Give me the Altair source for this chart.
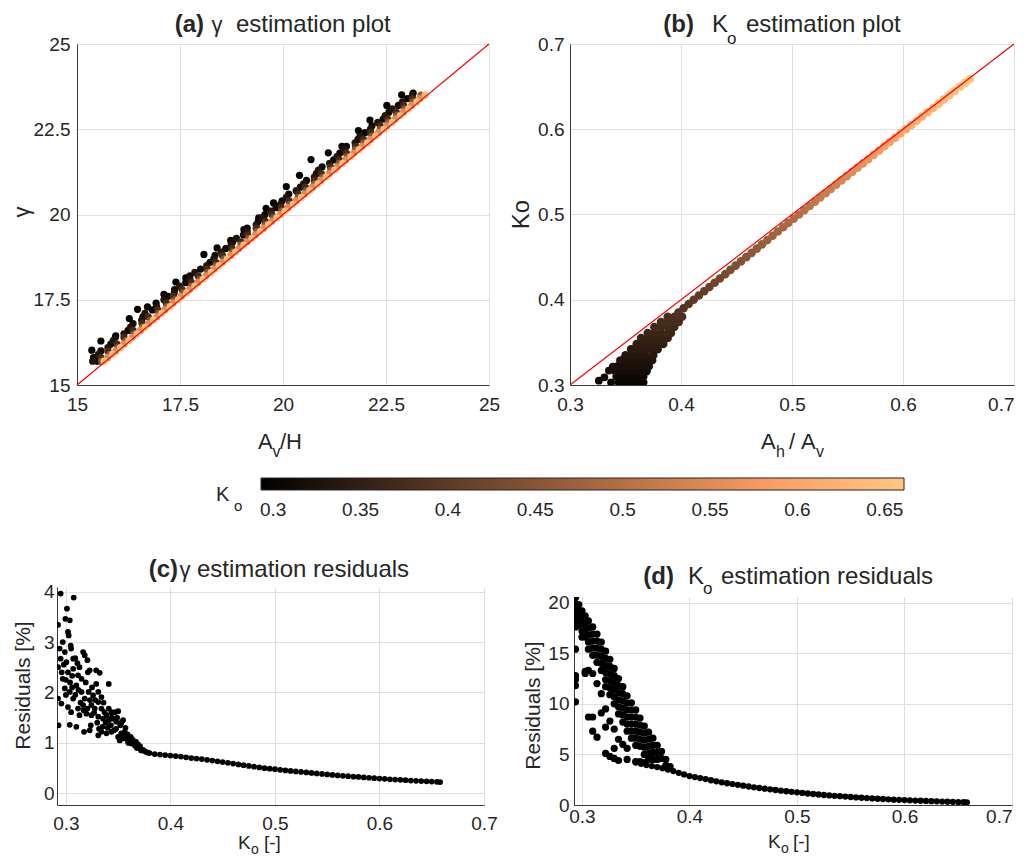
import altair as alt
import pandas as pd

FONT = "Liberation Sans"
INK = "#262626"
GRID = "#dfdfdf"
RED = "#ff0000"
FMT = ".3~f"

# ---------------- colour scale (copper) ----------------
KO_DOMAIN = [0.293, 0.5874, 0.661]
KO_COLORS = ["#000000", "#ff9f65", "#ffc77f"]
KO_TICKS = [0.3, 0.35, 0.4, 0.45, 0.5, 0.55, 0.6, 0.65]

A_TICKS = [15, 17.5, 20, 22.5, 25]
B_TICKS = [0.3, 0.4, 0.5, 0.6, 0.7]
K_TICKS = [0.3, 0.4, 0.5, 0.6, 0.7]
C_YTICKS = [0, 1, 2, 3, 4]
D_YTICKS = [0, 5, 10, 15, 20]
A_DIAG = [15, 25]
B_DIAG = [0.3, 0.7]

# ---------------- panel (a): gamma estimation ----------------
A_TOP_KO = 0.30
A_TOP_X = [15.36, 15.58, 15.94, 16.27, 16.47, 16.71, 17.11, 17.40, 17.64, 18.08, 18.40, 18.73, 19.05,
           19.41, 19.59, 19.77, 20.08, 20.40, 20.68, 21.10, 21.43, 21.83, 22.11, 22.52, 22.88, 23.16,
           15.40, 15.45, 15.50, 15.55]
A_TOP_Y = [16.02, 16.29, 16.44, 16.95, 17.22, 17.29, 17.66, 18.02, 18.14, 18.83, 19.02, 19.24, 19.56,
           19.90, 20.18, 20.34, 20.82, 21.15, 21.61, 21.81, 22.00, 22.46, 22.77, 23.20, 23.51, 23.56,
           15.80, 15.72, 15.70, 15.74]

A_ROWS_Y = [15.7, 15.9, 16.1, 16.3, 16.5, 16.7, 16.9, 17.1, 17.3, 17.5, 17.7, 17.9, 18.1, 18.3, 18.5,
            18.7, 18.9, 19.1, 19.3, 19.5, 19.7, 19.9, 20.1, 20.3, 20.5, 20.7, 20.9, 21.1, 21.3, 21.5,
            21.7, 21.9, 22.1, 22.3, 22.5, 22.7, 22.9, 23.1, 23.3, 23.5]
A_ROWS_Y2 = [15.8, 16.0, 16.2, 16.4, 16.6, 16.8, 17.0, 17.2, 17.4, 17.6, 17.8, 18.0, 18.2, 18.4, 18.6,
             18.8, 19.0, 19.2, 19.4, 19.6, 19.8, 20.0, 20.2, 20.4, 20.6, 20.8, 21.0, 21.2, 21.4, 21.6,
             21.8, 22.0, 22.2, 22.4, 22.6, 22.8, 23.0, 23.2, 23.4]

A_DARK2_KO = 0.31
A_DARK2_X = [15.45, 15.58, 15.82, 15.93, 16.24, 16.36, 16.60, 16.83, 16.92, 17.21, 17.37, 17.64, 17.74,
             18.00, 18.23, 18.35, 18.61, 18.78, 19.04, 19.13, 19.40, 19.56, 19.83, 19.98, 20.14, 20.42,
             20.57, 20.81, 20.95, 21.23, 21.38, 21.54, 21.82, 21.99, 22.16, 22.43, 22.57, 22.80, 23.02]
A_DARK_KO = 0.33
A_DARK_X = [15.38, 15.52, 15.75, 15.88, 16.14, 16.30, 16.57, 16.65, 16.93, 17.11, 17.36, 17.49, 17.74,
            17.86, 18.15, 18.32, 18.50, 18.74, 18.87, 19.13, 19.35, 19.49, 19.71, 19.94, 20.08, 20.32,
            20.50, 20.76, 20.86, 21.13, 21.31, 21.49, 21.75, 21.87, 22.12, 22.30, 22.48, 22.65, 22.90,
            23.14]
A_DBROWN_KO = 0.37
A_DBROWN_X = [15.58, 15.75, 15.97, 16.14, 16.36, 16.58, 16.73, 16.96, 17.17, 17.34, 17.55, 17.78, 17.94,
              18.16, 18.37, 18.53, 18.76, 18.98, 19.14, 19.35, 19.57, 19.73, 19.96, 20.15, 20.37, 20.54,
              20.76, 20.93, 21.15, 21.37, 21.54, 21.76, 21.95, 22.13, 22.36, 22.54, 22.75, 22.93, 23.14]
A_BROWN_KO = 0.45
A_BROWN_X = [15.60, 15.80, 15.99, 16.19, 16.39, 16.59, 16.79, 16.99, 17.18, 17.38, 17.58, 17.78, 17.98,
             18.18, 18.38, 18.58, 18.78, 18.98, 19.17, 19.37, 19.57, 19.77, 19.97, 20.17, 20.37, 20.57,
             20.77, 20.97, 21.16, 21.36, 21.56, 21.76, 21.96, 22.16, 22.36, 22.56, 22.76, 22.96, 23.16,
             23.35]
A_MID_KO = 0.55
A_MID_X = [15.74, 15.94, 16.14, 16.34, 16.54, 16.74, 16.94, 17.13, 17.33, 17.53, 17.73, 17.93, 18.13,
           18.33, 18.53, 18.73, 18.93, 19.13, 19.33, 19.53, 19.73, 19.93, 20.12, 20.32, 20.52, 20.72,
           20.92, 21.12, 21.32, 21.52, 21.72, 21.92, 22.12, 22.32, 22.52, 22.72, 22.92, 23.12, 23.32]
A_LIGHT_KO = 0.64
A_LIGHT_X = [15.66, 15.86, 16.06, 16.26, 16.46, 16.66, 16.86, 17.06, 17.26, 17.46, 17.66, 17.86, 18.06,
             18.26, 18.45, 18.65, 18.85, 19.05, 19.25, 19.45, 19.65, 19.85, 20.05, 20.25, 20.45, 20.65,
             20.85, 21.05, 21.25, 21.45, 21.65, 21.85, 22.05, 22.25, 22.45, 22.65, 22.85, 23.05, 23.25,
             23.45]

# ---------------- panel (b): Ko estimation ----------------
B_BAND_KO = [0.385, 0.390, 0.395, 0.400, 0.405, 0.410, 0.415, 0.420, 0.425, 0.430, 0.435, 0.440, 0.445,
             0.450, 0.455, 0.460, 0.465, 0.470, 0.475, 0.480, 0.485, 0.490, 0.495, 0.500, 0.505, 0.510,
             0.515, 0.520, 0.525, 0.530, 0.535, 0.540, 0.545, 0.550, 0.555, 0.560, 0.565, 0.570, 0.575,
             0.580, 0.585, 0.590, 0.595, 0.600, 0.605, 0.610, 0.615, 0.620, 0.625, 0.630, 0.635, 0.640,
             0.645, 0.650, 0.655, 0.659]
B_BAND_X = [0.3977, 0.4023, 0.4069, 0.4114, 0.4161, 0.4209, 0.4256, 0.4303, 0.4350, 0.4398, 0.4445,
            0.4492, 0.4540, 0.4588, 0.4636, 0.4683, 0.4730, 0.4778, 0.4825, 0.4872, 0.4920, 0.4967,
            0.5015, 0.5063, 0.5111, 0.5159, 0.5207, 0.5255, 0.5303, 0.5350, 0.5398, 0.5446, 0.5494,
            0.5543, 0.5591, 0.5639, 0.5687, 0.5736, 0.5784, 0.5832, 0.5880, 0.5928, 0.5977, 0.6027,
            0.6075, 0.6124, 0.6173, 0.6222, 0.6271, 0.6320, 0.6368, 0.6418, 0.6467, 0.6516, 0.6565,
            0.6604]
B_WEDGE = {
    0.303: [0.344, 0.350, 0.356, 0.362, 0.366],
    0.310: [0.342, 0.348, 0.354, 0.360, 0.366],
    0.316: [0.341, 0.347, 0.353, 0.359, 0.365, 0.369],
    0.322: [0.343, 0.349, 0.355, 0.361, 0.367, 0.371],
    0.329: [0.347, 0.353, 0.359, 0.365, 0.371, 0.374],
    0.335: [0.350, 0.356, 0.362, 0.368, 0.375],
    0.342: [0.355, 0.361, 0.367, 0.373, 0.379],
    0.348: [0.360, 0.366, 0.372, 0.378, 0.384],
    0.355: [0.364, 0.370, 0.376, 0.382, 0.388],
    0.361: [0.370, 0.376, 0.382, 0.388, 0.391],
    0.368: [0.376, 0.382, 0.388, 0.394],
    0.374: [0.382, 0.388, 0.394, 0.398],
    0.380: [0.388, 0.394, 0.401],
}
B_LOOSE = [(0.326, 0.305), (0.331, 0.309), (0.337, 0.303), (0.335, 0.317), (0.3385, 0.3215), (0.345, 0.329)]

# ---------------- panel (c): gamma residuals ----------------
C_SCATTER = [
    (0.295, 3.96), (0.3075, 3.88), (0.2925, 3.34), (0.301, 3.66), (0.2995, 3.46), (0.3037, 3.43),
    (0.302, 3.20), (0.3027, 3.13), (0.297, 3.00), (0.294, 2.87), (0.299, 2.80), (0.3046, 2.93),
    (0.305, 2.87), (0.2925, 2.50), (0.295, 2.67), (0.3005, 2.60), (0.307, 2.67), (0.309, 2.68),
    (0.3165, 2.80), (0.318, 2.74), (0.3206, 2.64), (0.2925, 1.88), (0.293, 1.35), (0.297, 2.27),
    (0.302, 2.40), (0.307, 2.47), (0.3116, 2.34), (0.315, 2.27), (0.321, 2.40), (0.3228, 2.44),
    (0.329, 2.44), (0.3324, 2.39), (0.329, 2.17), (0.341, 2.17), (0.299, 2.08), (0.3037, 2.01),
    (0.307, 1.88), (0.310, 2.14), (0.315, 2.01), (0.318, 1.88), (0.3218, 2.01), (0.326, 1.94),
    (0.331, 2.01), (0.334, 1.91), (0.2957, 1.78), (0.302, 1.71), (0.305, 1.61), (0.3116, 1.68),
    (0.3165, 1.75), (0.3206, 1.68), (0.3244, 1.75), (0.3276, 1.68), (0.331, 1.81), (0.334, 1.68),
    (0.337, 1.61), (0.341, 1.68), (0.3436, 1.61), (0.347, 1.61), (0.350, 1.63), (0.313, 1.55),
    (0.3196, 1.58), (0.3244, 1.55), (0.331, 1.52), (0.3356, 1.48), (0.341, 1.45), (0.345, 1.48),
    (0.348, 1.42), (0.3547, 1.45), (0.3037, 1.36), (0.310, 1.32), (0.3174, 1.22), (0.3228, 1.25),
    (0.3238, 1.35), (0.331, 1.15), (0.3317, 1.28), (0.334, 1.22), (0.3388, 1.19), (0.3436, 1.22),
    (0.348, 1.28), (0.350, 1.12), (0.3515, 1.05), (0.353, 1.19), (0.3547, 1.09), (0.3563, 1.22),
    (0.358, 1.09), (0.3595, 1.02), (0.361, 1.09), (0.3627, 0.99), (0.3643, 1.05), (0.366, 0.95),
    (0.3675, 0.92), (0.369, 0.97), (0.3707, 0.89), (0.374, 0.86), (0.377, 0.82), (0.356, 1.15),
    (0.360, 1.00), (0.362, 1.12), (0.365, 0.98), (0.368, 0.90), (0.372, 0.85), (0.375, 0.84),
    (0.378, 0.81), (0.296, 2.40), (0.298, 2.55), (0.304, 2.20), (0.312, 2.05), (0.313, 2.50),
    (0.319, 2.20), (0.325, 2.10), (0.328, 1.85), (0.336, 1.80), (0.339, 1.55), (0.343, 1.35),
    (0.346, 1.25), (0.352, 1.35), (0.357, 1.30), (0.338, 1.40), (0.300, 2.25), (0.306, 2.10),
    (0.309, 1.95), (0.314, 1.80), (0.317, 1.65), (0.323, 1.85), (0.327, 1.60), (0.330, 1.40),
    (0.335, 1.32), (0.340, 1.30), (0.344, 1.50), (0.349, 1.50), (0.353, 1.40), (0.359, 1.17),
    (0.363, 1.08), (0.367, 1.02), (0.371, 0.93), (0.306, 2.33), (0.311, 2.58), (0.300, 1.95),
]
C_TAIL_KO = [0.380, 0.385, 0.390, 0.395, 0.400, 0.405, 0.410, 0.415, 0.420, 0.425, 0.430, 0.435, 0.440,
             0.445, 0.450, 0.455, 0.460, 0.465, 0.470, 0.475, 0.480, 0.485, 0.490, 0.495, 0.500, 0.505,
             0.510, 0.515, 0.520, 0.525, 0.530, 0.535, 0.540, 0.545, 0.550, 0.555, 0.560, 0.565, 0.570,
             0.575, 0.580, 0.585, 0.590, 0.595, 0.600, 0.605, 0.610, 0.615, 0.620, 0.625, 0.630, 0.635,
             0.640, 0.645, 0.650, 0.655, 0.658]
C_TAIL_RES = [0.80, 0.78, 0.77, 0.76, 0.75, 0.74, 0.73, 0.715, 0.70, 0.69, 0.68, 0.665, 0.65, 0.635, 0.62,
              0.605, 0.59, 0.575, 0.56, 0.545, 0.53, 0.515, 0.50, 0.49, 0.48, 0.467, 0.455, 0.445, 0.435,
              0.425, 0.415, 0.405, 0.395, 0.385, 0.375, 0.365, 0.355, 0.348, 0.34, 0.332, 0.325, 0.317,
              0.31, 0.302, 0.295, 0.288, 0.28, 0.275, 0.27, 0.262, 0.255, 0.25, 0.245, 0.24, 0.235, 0.23,
              0.225]

# ---------------- panel (d): Ko residuals ----------------
D_WEDGE = {
    0.294: [20.5, 19.9, 19.3, 18.7, 18.1, 17.6, 15.4, 12.8, 12.4, 11.8, 10.2],
    0.297: [19.8, 19.1, 18.4, 17.8],
    0.300: [19.2, 18.6, 17.9, 17.2, 16.6],
    0.303: [18.7, 18.0, 17.3, 16.6, 13.2, 13.0],
    0.306: [18.2, 17.5, 16.8, 16.1, 15.4, 13.3, 8.7],
    0.310: [17.6, 16.9, 16.2, 15.5, 14.8, 13.0, 8.7, 7.3],
    0.314: [16.9, 16.2, 15.5, 14.8, 14.1, 12.0, 6.7],
    0.318: [16.1, 15.4, 14.7, 14.0, 13.3, 11.0, 9.1],
    0.322: [15.2, 14.5, 13.8, 13.1, 12.4, 11.7, 9.5, 7.7, 5.1],
    0.326: [14.4, 13.7, 13.0, 12.3, 11.6, 10.9, 8.3, 4.8],
    0.330: [13.5, 12.8, 12.1, 11.4, 10.7, 10.0, 7.5, 5.6, 4.6],
    0.334: [12.5, 11.8, 11.1, 10.4, 9.7, 9.0, 6.5, 4.4],
    0.338: [11.7, 11.0, 10.3, 9.6, 8.9, 8.2, 6.0],
    0.342: [10.8, 10.1, 9.4, 8.7, 8.0, 7.3, 5.6, 4.5],
    0.346: [10.1, 9.4, 8.7, 8.0, 7.3, 6.6],
    0.350: [9.4, 8.7, 8.0, 7.3, 6.6, 5.9, 4.3],
    0.354: [8.6, 7.9, 7.2, 6.5, 5.8, 4.3],
    0.358: [7.8, 7.1, 6.4, 5.7, 5.0, 4.2],
    0.362: [7.2, 6.5, 5.8, 5.1, 4.5],
    0.366: [6.6, 5.9, 5.2, 4.5],
    0.370: [5.9, 5.2, 4.5],
    0.374: [5.3, 4.6],
    0.378: [4.5, 3.9],
    0.382: [3.8],
}
D_TAIL_KO = [0.350, 0.355, 0.360, 0.365, 0.370, 0.375, 0.380, 0.385, 0.390, 0.395, 0.400, 0.405, 0.410,
             0.415, 0.420, 0.425, 0.430, 0.435, 0.440, 0.445, 0.450, 0.455, 0.460, 0.465, 0.470, 0.475,
             0.480, 0.485, 0.490, 0.495, 0.500, 0.505, 0.510, 0.515, 0.520, 0.525, 0.530, 0.535, 0.540,
             0.545, 0.550, 0.555, 0.560, 0.565, 0.570, 0.575, 0.580, 0.585, 0.590, 0.595, 0.600, 0.605,
             0.610, 0.615, 0.620, 0.625, 0.630, 0.635, 0.640, 0.645, 0.650, 0.655, 0.658]
D_TAIL_RES = [4.20, 4.07, 3.95, 3.85, 3.75, 3.64, 3.50, 3.35, 3.18, 3.02, 2.86, 2.76, 2.66, 2.56, 2.45,
              2.34, 2.24, 2.15, 2.07, 1.99, 1.91, 1.83, 1.75, 1.68, 1.61, 1.55, 1.48, 1.42, 1.36, 1.30,
              1.25, 1.19, 1.14, 1.09, 1.04, 0.99, 0.95, 0.91, 0.87, 0.83, 0.79, 0.75, 0.72, 0.68, 0.65,
              0.62, 0.59, 0.56, 0.53, 0.51, 0.49, 0.46, 0.44, 0.42, 0.40, 0.38, 0.36, 0.34, 0.32, 0.30,
              0.28, 0.27, 0.26]

# ---------------- tables ----------------
a_rows = []
a_rows += [(x, y, A_TOP_KO) for x, y in zip(A_TOP_X, A_TOP_Y)]
a_rows += [(x, y, A_DARK2_KO) for x, y in zip(A_DARK2_X, A_ROWS_Y2)]
a_rows += [(x, y, A_DARK_KO) for x, y in zip(A_DARK_X, A_ROWS_Y)]
a_rows += [(x, y, A_DBROWN_KO) for x, y in zip(A_DBROWN_X, A_ROWS_Y2)]
a_rows += [(x, y, A_BROWN_KO) for x, y in zip(A_BROWN_X, A_ROWS_Y)]
a_rows += [(x, y, A_MID_KO) for x, y in zip(A_MID_X, A_ROWS_Y2)]
a_rows += [(x, y, A_LIGHT_KO) for x, y in zip(A_LIGHT_X, A_ROWS_Y)]
a_df = pd.DataFrame(a_rows, columns=["x", "y", "ko"])

b_rows = [(x, k, k, 72) for k, xs in B_WEDGE.items() for x in xs]
b_rows += [(x, k, k, 60) for x, k in B_LOOSE]
b_rows += [(x, k, k, 74) for x, k in zip(B_BAND_X, B_BAND_KO)]
b_df = pd.DataFrame(b_rows, columns=["x", "y", "ko", "sz"])

c_rows = list(C_SCATTER) + list(zip(C_TAIL_KO, C_TAIL_RES))
c_df = pd.DataFrame(c_rows, columns=["x", "y"])

d_rows = [(k, r, 52) for k, rs in D_WEDGE.items() for r in rs]
d_rows += [(k, r, 40) for k, r in zip(D_TAIL_KO, D_TAIL_RES)]
d_df = pd.DataFrame(d_rows, columns=["x", "y", "sz"])

KO_SCALE = alt.Scale(domain=KO_DOMAIN, range=KO_COLORS, interpolate="rgb", clamp=True)
KO_LEGEND = alt.Legend(
    orient="none", legendX=204, legendY=434, direction="horizontal",
    gradientLength=643, gradientThickness=12, title=None, values=KO_TICKS, format="~g",
    labelFont=FONT, labelFontSize=19, labelColor=INK, labelOffset=11, labelOverlap=False,
    gradientStrokeColor=INK, gradientStrokeWidth=1, padding=0,
)
RIGHT_END = {"condition": {"test": "datum.value >= 0.69", "value": "right"}, "value": "center"}


def txt(s, x, y, size, weight="normal", align="left"):
    return alt.Chart(pd.DataFrame({"t": [s]})).mark_text(
        align=align, baseline="alphabetic", font=FONT, fontSize=size,
        fontWeight=weight, color=INK,
    ).encode(x=alt.value(x), y=alt.value(y), text="t:N")


def anchor(x, y):
    return alt.Chart(pd.DataFrame({"s": [0]})).mark_circle(size=1, opacity=0).encode(
        x=alt.value(x), y=alt.value(y))


def spacer():
    return alt.Chart(pd.DataFrame({"s": [0]})).mark_circle(size=1, opacity=0).encode(
        x=alt.value(0), y=alt.value(0)).properties(width=1, height=1)


def xaxis(values, pad, right_end=False):
    if right_end:
        return alt.Axis(values=values, format=FMT, title=None, labelPadding=pad, labelAlign=RIGHT_END)
    return alt.Axis(values=values, format=FMT, title=None, labelPadding=pad)


def yaxis(values, pad, title, tx, ty, size):
    return alt.Axis(values=values, format=FMT, labelPadding=pad, title=title,
                    titleX=tx, titleY=ty, titleFontSize=size, titleAngle=270,
                    titleBaseline="middle", titleAlign="center")


# ---------------- (a) ----------------
XA = alt.X("x:Q", scale=alt.Scale(domain=[15, 25], nice=False, zero=False), axis=xaxis(A_TICKS, 10))
YA = alt.Y("y:Q", scale=alt.Scale(domain=[15, 25], nice=False, zero=False),
           axis=yaxis(A_TICKS, 7, "γ", -56, 167.5, 22))
pa_pts = alt.Chart(a_df).mark_circle(size=52, opacity=1, clip=True).encode(
    x=XA, y=YA, color=alt.Color("ko:Q", scale=KO_SCALE, legend=KO_LEGEND))
pa_line = alt.Chart(pd.DataFrame({"x": A_DIAG, "y": A_DIAG})).mark_line(
    color=RED, strokeWidth=1.2).encode(x=XA, y=YA)
pa = alt.layer(
    pa_pts, pa_line,
    txt("(a)", 127, -12, 24, "bold", "right"),
    txt("γ", 140, -12, 22, "normal", "center"),
    txt("estimation plot", 159, -12, 24),
    txt("A", 181, 405, 22), txt("v", 195.5, 413, 16), txt("/H", 203, 405, 22),
    txt("K", 139, 457, 20), txt("o", 157, 467, 15),
    anchor(-68, -34.7), anchor(-68, 497.3),
).properties(width=412, height=341)

# ---------------- (b) ----------------
XB = alt.X("x:Q", scale=alt.Scale(domain=[0.3, 0.7], nice=False, zero=False),
           axis=xaxis(B_TICKS, 10, right_end=True))
YB = alt.Y("y:Q", scale=alt.Scale(domain=[0.3, 0.7], nice=False, zero=False),
           axis=yaxis(B_TICKS, 6, "Ko", -49, 170, 24))
pb_pts = alt.Chart(b_df).mark_circle(opacity=1, clip=True).encode(
    x=XB, y=YB, color=alt.Color("ko:Q", scale=KO_SCALE, legend=KO_LEGEND),
    size=alt.Size("sz:Q", scale=None))
pb_line = alt.Chart(pd.DataFrame({"x": B_DIAG, "y": B_DIAG})).mark_line(
    color=RED, strokeWidth=1.2).encode(x=XB, y=YB)
pb = alt.layer(
    pb_pts, pb_line,
    txt("(b)", 124, -12, 24, "bold", "right"),
    txt("K", 142, -12, 24), txt("o", 157, 0, 17),
    txt("estimation plot", 176, -12, 24),
    txt("A", 191, 405, 22), txt("h", 206, 413, 16), txt("/", 219, 405, 22),
    txt("A", 231, 405, 22), txt("v", 246, 413, 16),
).properties(width=444, height=341)

# ---------------- (c) ----------------
XC = alt.X("x:Q", scale=alt.Scale(domain=[0.2915, 0.7], nice=False, zero=False), axis=xaxis(K_TICKS, 9))
YC = alt.Y("y:Q", scale=alt.Scale(domain=[-0.23, 4.09], nice=False, zero=False),
           axis=yaxis(C_YTICKS, 3, "Residuals [%]", -33.5, 98, 21))
pc = alt.layer(
    alt.Chart(c_df).mark_circle(size=33, opacity=1, color="#000000", clip=True).encode(x=XC, y=YC),
    txt("(c)", 121, -10, 24, "bold", "right"),
    txt("γ", 128, -10, 22, "normal", "center"),
    txt("estimation residuals", 140, -10, 24),
    txt("K", 181, 262, 19), txt("o", 194, 267, 14), txt("[-]", 207, 262, 19),
    anchor(-48, -40),
).properties(width=427, height=218)

# ---------------- (d) ----------------
XD = alt.X("x:Q", scale=alt.Scale(domain=[0.2926, 0.7], nice=False, zero=False),
           axis=xaxis(K_TICKS, 2, right_end=True))
YD = alt.Y("y:Q", scale=alt.Scale(domain=[0, 20.56], nice=False, zero=False),
           axis=yaxis(D_YTICKS, 5, "Residuals [%]", -41, 108, 21))
pdd = alt.layer(
    alt.Chart(d_df).mark_circle(opacity=1, color="#000000", clip=True).encode(
        x=XD, y=YD, size=alt.Size("sz:Q", scale=None)),
    txt("(d)", 100, -13, 24, "bold", "right"),
    txt("K", 114, -13, 24), txt("o", 129, -3, 17),
    txt("estimation residuals", 147, -13, 24),
    txt("K", 194, 251, 19), txt("o", 207, 256, 14), txt("[-]", 219, 251, 19),
).properties(width=438, height=208)

row1 = alt.hconcat(spacer(), alt.hconcat(pa, pb, spacing=81, bounds="flush"), spacing=19, bounds="flush")
row3 = alt.hconcat(pc, alt.vconcat(spacer(), pdd, spacing=9, bounds="flush"), spacing=90, bounds="flush")

chart = alt.vconcat(row1, row3, spacing=4).properties(
    padding={"left": 0, "top": 0, "right": 0, "bottom": 0}
).configure_view(stroke=None).configure_axis(
    labelFont=FONT, labelFontSize=19, labelColor=INK, titleFont=FONT, titleColor=INK,
    titleFontWeight="normal", gridColor=GRID, gridWidth=1, domainColor="#3a3a3a", domainWidth=1,
    ticks=False, tickSize=0, labelFlush=False, labelOverlap=False,
).configure_text(font=FONT)

chart.save("out.html", embed_options={"renderer": "svg", "actions": False})
